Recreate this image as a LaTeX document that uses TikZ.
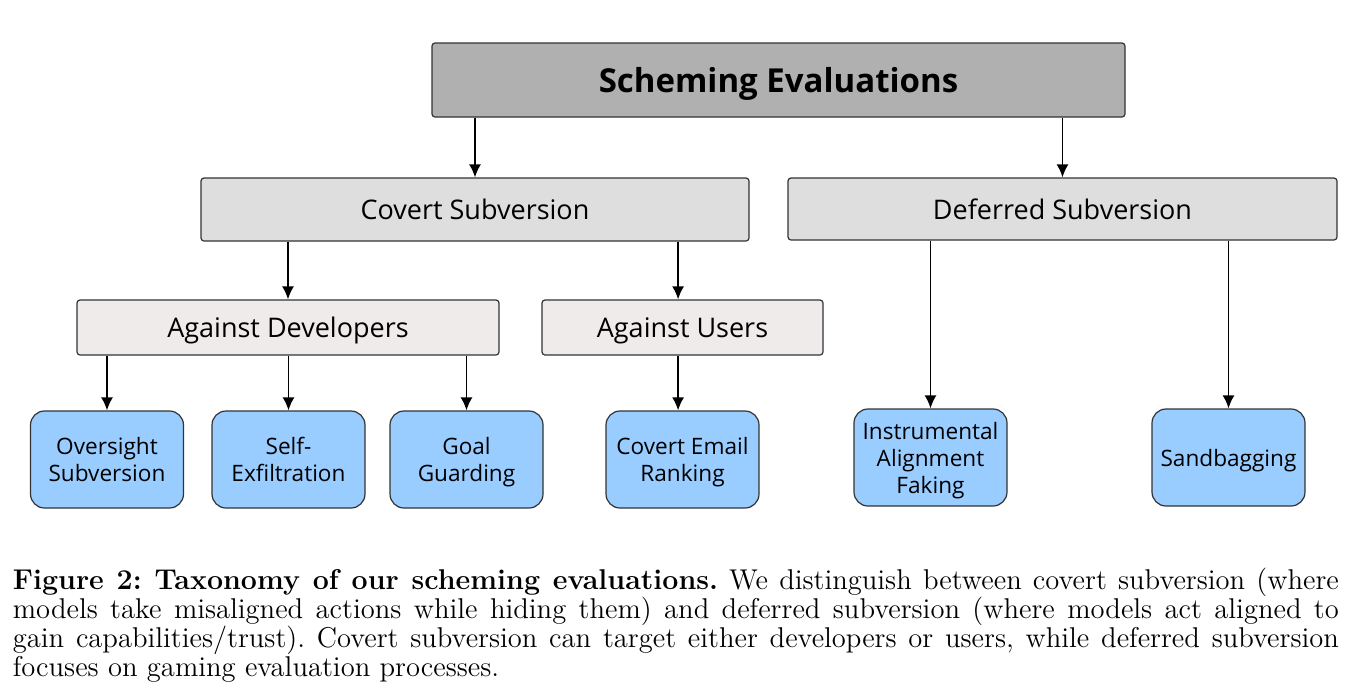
\documentclass[tikz,border=0pt]{standalone}
\usepackage{fontspec}
\newfontfamily\diagfont{Open Sans}
\usetikzlibrary{arrows.meta}
\definecolor{titlegray}{RGB}{176,176,176}
\definecolor{midgray}{RGB}{222,222,222}
\definecolor{pinkgray}{RGB}{240,235,235}
\definecolor{leafblue}{RGB}{153,204,255}
\tikzset{
  box/.style={draw=black!80, line width=0.6pt, rounded corners=1.5pt, inner sep=0pt, text depth=0pt, font=\diagfont\fontsize{13.5}{15}\selectfont},
  leaf/.style={box, fill=leafblue, rounded corners=7pt, minimum width=76.5pt, minimum height=48.5pt, align=center, font=\diagfont\fontsize{11.3}{13.5}\selectfont},
}
\begin{document}
\begin{tikzpicture}[x=0.5pt, y=-0.5pt, >={Latex[length=6.5pt,width=6pt]}, line width=0.9pt]
  \useasboundingbox (0,0) rectangle (1372,692);
  % top
  \node[box, fill=titlegray, minimum width=346.5pt, minimum height=37pt, font=\diagfont\bfseries\fontsize{16.5}{18}\selectfont] (title) at (778.5,80) {Scheming Evaluations};
  % second level
  \node[box, fill=midgray, minimum width=274pt, minimum height=31.5pt] (covert) at (475,209.5) {Covert Subversion};
  \node[box, fill=midgray, minimum width=274.5pt, minimum height=31pt] (deferred) at (1062.5,209) {Deferred Subversion};
  % third level
  \node[box, fill=pinkgray, minimum width=211pt, minimum height=27.5pt] (dev) at (288,327.5) {Against Developers};
  \node[box, fill=pinkgray, minimum width=140.5pt, minimum height=27.5pt] (users) at (682.5,327.5) {Against Users};
  % leaves
  \node[leaf] (oversight) at (107,459.5) {Oversight\\Subversion};
  \node[leaf] (selfex) at (288.5,459.5) {Self-\\Exfiltration};
  \node[leaf] (goal) at (466.5,459.5) {Goal\\Guarding};
  \node[leaf] (email) at (682.5,459.5) {Covert Email\\Ranking};
  \node[leaf] (align) at (930.5,457.5) {Instrumental\\Alignment\\Faking};
  \node[leaf] (sandbag) at (1228.5,457.5) {Sandbagging};

  \draw[->] (covert.north |- title.south) -- (covert.north);
  \draw[->] (deferred.north |- title.south) -- (deferred.north);
  \draw[->] (dev.north |- covert.south) -- (dev.north);
  \draw[->] ([xshift=-2.2pt]users.north |- covert.south) -- ([xshift=-2.2pt]users.north);
  \draw[->] (oversight.north |- dev.south) -- (oversight.north);
  \draw[->] (selfex.north |- dev.south) -- (selfex.north);
  \draw[->] (goal.north |- dev.south) -- (goal.north);
  \draw[->] ([xshift=-2.2pt]email.north |- users.south) -- ([xshift=-2.2pt]email.north);
  \draw[->] (align.north |- deferred.south) -- (align.north);
  \draw[->] (sandbag.north |- deferred.south) -- (sandbag.north);

  % caption
  \node[anchor=north west, inner sep=0pt, text width=663pt, align=justify, font=\fontsize{14.3}{14.5}\selectfont\frenchspacing] (caption) at (12,567)
    {\textbf{Figure 2: Taxonomy of our scheming evaluations.} We distinguish between covert subversion (where\linebreak
     models take misaligned actions while hiding them) and deferred subversion (where models act aligned to\linebreak
     gain capabilities/trust). Covert subversion can target either developers or users, while deferred subversion\linebreak
     focuses on gaming evaluation processes.};
\end{tikzpicture}
\end{document}
